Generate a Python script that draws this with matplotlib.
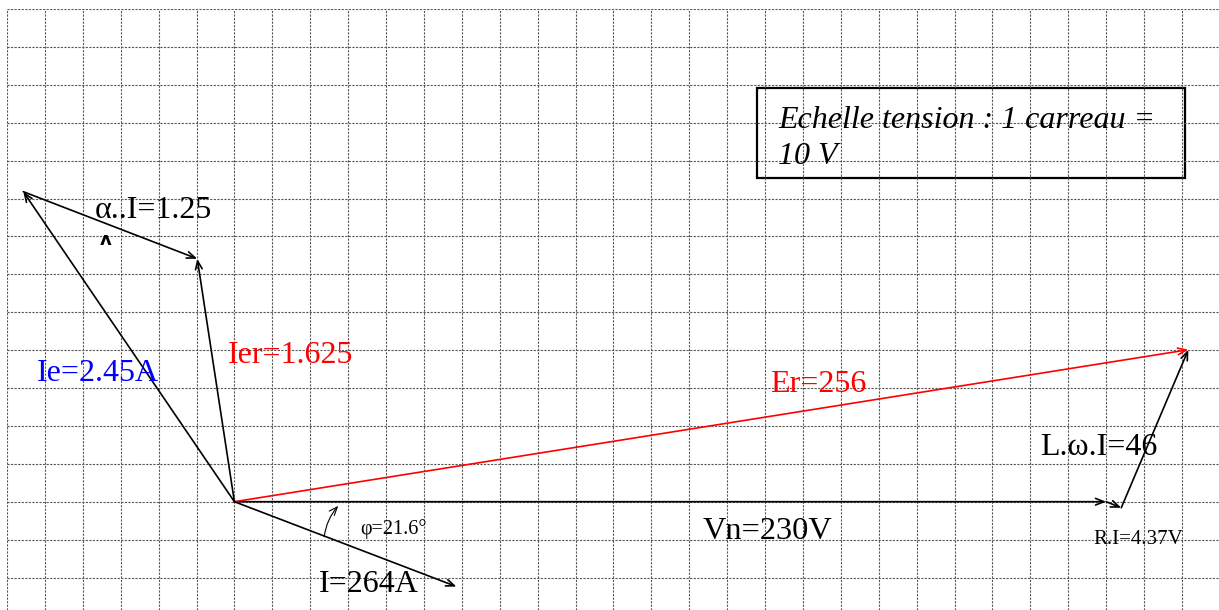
import numpy as np
import matplotlib.pyplot as plt
from matplotlib.patches import Rectangle, FancyArrowPatch

# diagramme vectoriel (echelle : 1 carreau = 10 V)
# vecteurs : (depart, arrivee) en V
vec_names = ['Vn', 'RI', 'LwI', 'Er', 'I', 'Ie', 'Ier', 'aI']
vec_start = [(0, 0), (230, 0), (234.0, -1.6), (0, 0), (0, 0), (0, 0), (0, 0), (-55.7, 81.8)]
vec_end = [(230, 0), (234.0, -1.6), (251.7, 40.1), (251.7, 40.1), (58.6, -22.4),
           (-55.7, 81.8), (-9.8, 64.1), (-9.8, 64.1)]
vec_colors = ['black', 'black', 'black', 'red', 'black', 'black', 'black', 'black']

# etiquettes
labels = ['Vn=230V', 'R.I=4.37V', 'L.\u03c9.I=46', 'Er=256', 'I=264A', 'Ie=2.45A',
          'Ier=1.625', '\u03b1..I=1.25', '\u03c6=21.6\u00b0']
label_pos = [(123.5, -9.8), (226.6, -11.1), (212.7, 12.4), (141.4, 29.0), (22.2, -23.7),
             (-52.0, 31.9), (-1.6, 36.7), (-36.9, 74.9), (33.2, -8.4)]
label_colors = ['black', 'black', 'black', 'red', 'black', 'blue', 'red', 'black', 'black']
label_sizes = [23.3, 15, 23, 23, 23, 23, 23, 23, 14.5]

scale_text = 'Echelle tension : 1 carreau =\n10 V'

px = 3.79  # pixels par volt
fig = plt.figure(figsize=(12.19, 6.10), dpi=100)
ax = fig.add_axes([7 / 1219, 0, 1212 / 1219, 601 / 610])
ax.set_xlim(-60, -60 + 1212 / px)
ax.set_ylim(130 - 601 / px, 130)

# quadrillage
ax.set_xticks(np.arange(-60, 260, 10))
ax.set_yticks(np.arange(-20, 140, 10))
ax.grid(True, ls=(0, (2, 1.2)), color='0.35', lw=0.8)
ax.tick_params(length=0, labelbottom=False, labelleft=False)
for s in ax.spines.values():
    s.set_visible(False)

# vecteurs
for st, en, c in zip(vec_start, vec_end, vec_colors):
    ax.annotate('', xy=en, xytext=st,
                arrowprops=dict(arrowstyle='->,head_length=0.6,head_width=0.24',
                                color=c, lw=1.2, shrinkA=0, shrinkB=0))

# angle phi
arc = FancyArrowPatch((23.7, -9.2), (27.4, -1.1), connectionstyle='arc3,rad=-0.15',
                      arrowstyle='->,head_length=0.5,head_width=0.2', lw=0.8,
                      color='black', mutation_scale=12, shrinkA=0, shrinkB=0)
ax.add_patch(arc)

for t, (x, y), c, fs in zip(labels, label_pos, label_colors, label_sizes):
    ax.text(x, y, t, color=c, fontsize=fs, family='Liberation Serif',
            ha='left', va='baseline')

# petit chapeau sous alpha
ax.text(-34.0, 69.0, '\u028c', fontsize=13, fontweight='bold', family='DejaVu Sans',
        ha='center', va='center')

# cadre echelle
ax.add_patch(Rectangle((138.0, 85.5), 112.9, 23.7, fill=False, lw=1.6, ec='black'))
ax.text(143.5, 89.2, scale_text, fontsize=23, family='Liberation Serif', style='italic',
        ha='left', va='baseline', linespacing=1.3)

fig.savefig('out.png', dpi=100)
